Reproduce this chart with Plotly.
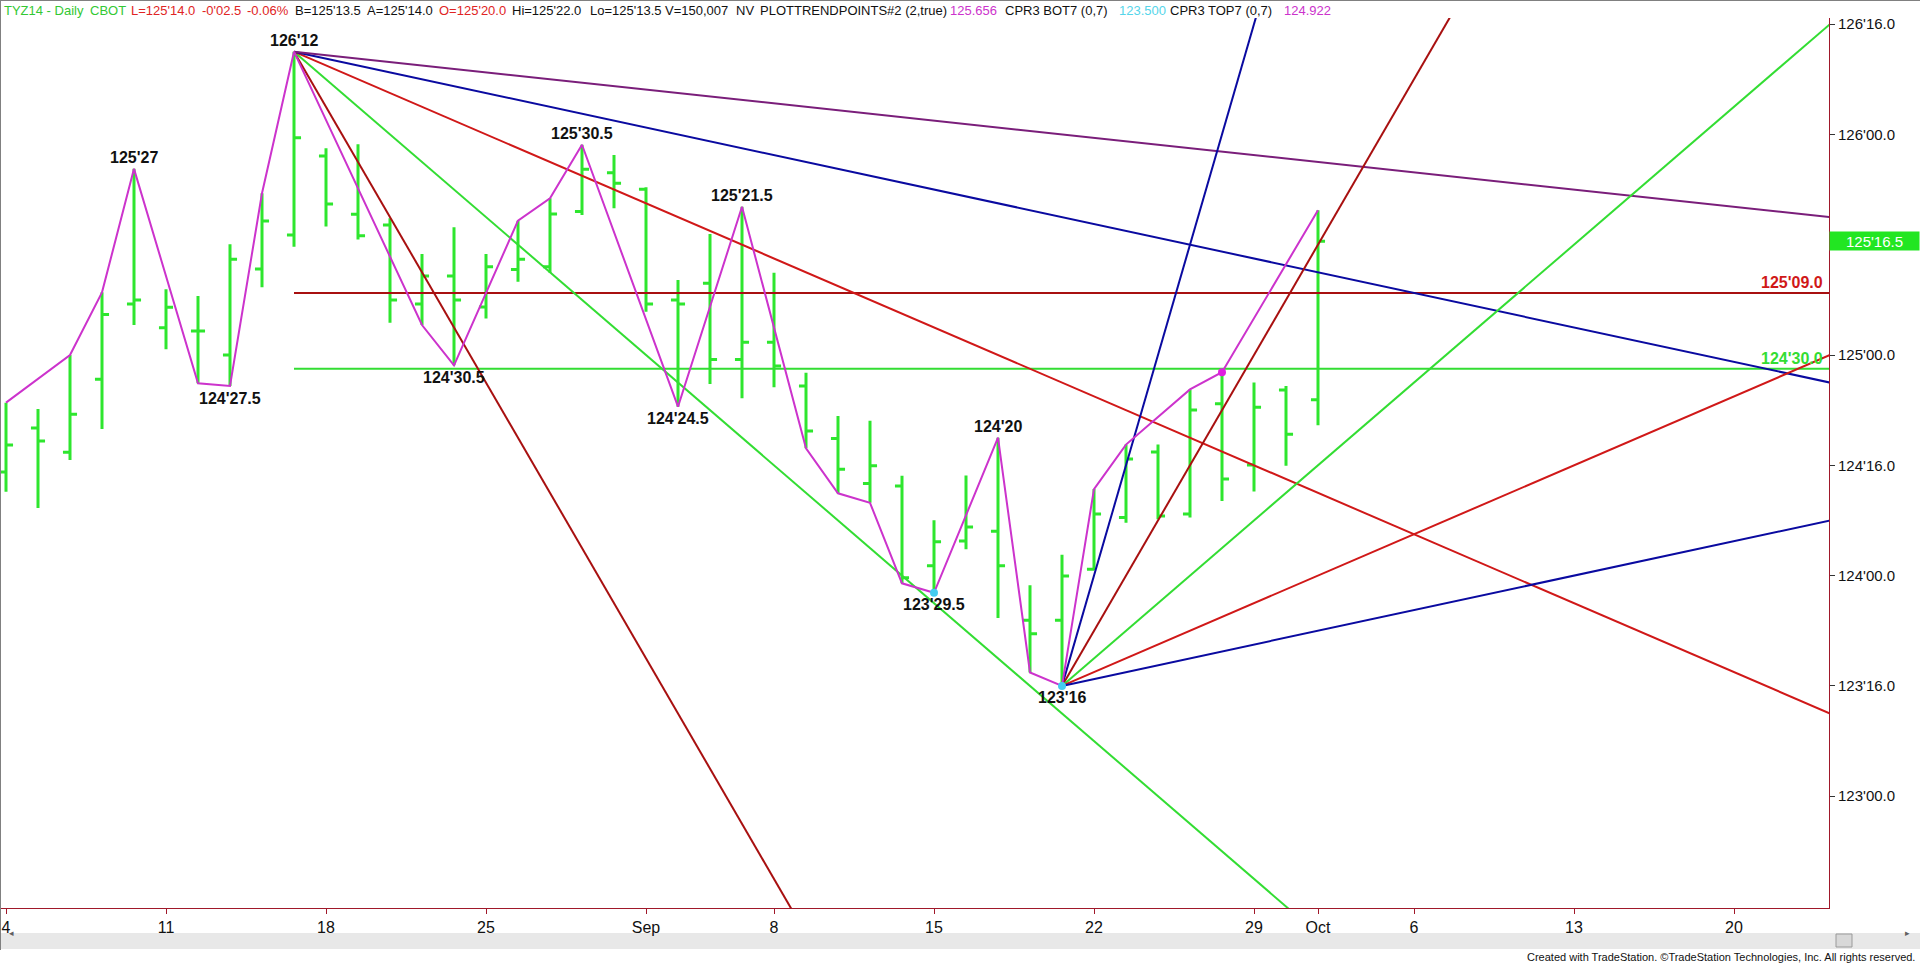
import pandas as pd
import plotly.graph_objects as go

# trading days on the axis (Labor Day is skipped), bars run to Oct 1
days = [d for d in pd.bdate_range("2014-08-04", "2014-10-24") if d != pd.Timestamp("2014-09-01")]

opens = [124.470, 124.669, 124.559, 124.890, 125.231, 125.124, 125.109, 125.000, 125.390, 125.544,
         125.902, 125.638, 125.589, 125.231, 125.358, 125.218, 125.388, 125.400, 125.650, 125.826,
         125.751, 125.249, 125.325, 124.980, 125.058, 124.859, 124.622, 124.418, 124.406, 124.045,
         124.157, 124.201, 123.798, 123.798, 124.029, 124.263, 124.560, 124.279, 124.779, 124.501,
         124.841, 124.797]
highs = [124.784, 124.755, 125.000, 125.284, 125.84375, 125.298, 125.267, 125.502, 125.733, 126.375,
         125.937, 125.955, 125.620, 125.458, 125.579, 125.458, 125.609, 125.710, 125.953125, 125.907,
         125.760, 125.340, 125.548, 125.671875, 125.373, 124.920, 124.723, 124.702, 124.453, 124.251,
         124.454, 124.625, 123.956, 124.095, 124.392, 124.594, 124.594, 124.844, 124.922, 124.875,
         124.860, 125.656]
lows = [124.380, 124.306, 124.524, 124.665, 125.136, 125.026, 124.872, 124.859375, 125.307, 125.491,
        125.582, 125.524, 125.146, 125.136, 124.953125, 125.166, 125.332, 125.373, 125.635, 125.665,
        125.196, 124.765625, 124.869, 124.804, 124.854, 124.577, 124.373, 124.330, 123.965, 123.921875,
        124.120, 123.808, 123.561, 123.500, 124.024, 124.240, 124.256, 124.263, 124.338, 124.381,
        124.498, 124.682]
closes = [124.592, 124.610, 124.731, 125.184, 125.249, 125.216, 125.109, 125.434, 125.607, 125.985,
          125.684, 125.541, 125.249, 125.358, 125.249, 125.400, 125.434, 125.639, 125.842, 125.778,
          125.231, 125.231, 124.980, 125.058, 124.950, 124.655, 124.482, 124.498, 123.990, 124.154,
          124.220, 124.045, 123.736, 123.998, 124.279, 124.529, 124.270, 124.751, 124.438, 124.763,
          124.641, 125.515625]

# swing points joined by the magenta trend-point line
zz_idx = [0, 2, 3, 4, 6, 7, 8, 9, 13, 14, 16, 17, 18, 21, 23, 25, 26, 27, 28, 29, 31, 32, 33, 34, 35, 37, 38, 41]
zz_side = ["H", "H", "H", "H", "L", "L", "H", "H", "L", "L", "H", "H", "H", "L", "H", "L", "L", "L", "L", "L",
           "H", "L", "L", "H", "H", "H", "H", "H"]

# labelled pivots
pivot_idx = [4, 7, 9, 14, 18, 21, 23, 29, 31, 33]
pivot_side = ["H", "L", "H", "L", "H", "L", "H", "L", "H", "L"]

# gann fans: anchor bar, slopes in points per bar
upper_anchor = 9
upper_slopes = [-1 / 4, -1 / 8, -1 / 16, -1 / 32, -1 / 64]
lower_anchor = 33
lower_slopes = [1 / 2, 1 / 4, 1 / 8, 1 / 16, 1 / 32]

# horizontal levels from the 126'12 top
levels = [125.28125, 124.9375]
level_start = 9

# dots
cyan_dots = [29, 33]
magenta_dots = [38]

tick_dates = ["2014-08-04", "2014-08-11", "2014-08-18", "2014-08-25", "2014-09-02", "2014-09-08",
              "2014-09-15", "2014-09-22", "2014-09-29", "2014-10-01", "2014-10-06", "2014-10-13", "2014-10-20"]
tick_text = ["4", "11", "18", "25", "Sep", "8", "15", "22", "29", "Oct", "6", "13", "20"]

# 125'16 sits under the last-price box
y_ticks = [123.0, 123.5, 124.0, 124.5, 125.0, 126.0, 126.5]

header = [("TYZ14 - Daily", "green"), ("CBOT", "green"), ("L=125'14.0", "red"), ("-0'02.5", "red"),
          ("-0.06%", "red"), ("B=125'13.5", "black"), ("A=125'14.0", "black"), ("O=125'20.0", "red"),
          ("Hi=125'22.0", "black"), ("Lo=125'13.5", "black"), ("V=150,007", "black"), ("NV", "black"),
          ("PLOTTRENDPOINTS#2 (2,true)", "black"), ("125.656", "magenta"), ("CPR3 BOT7 (0,7)", "black"),
          ("123.500", "cyan"), ("CPR3 TOP7 (0,7)", "black"), ("124.922", "magenta")]
header_px = [2, 88, 129, 200, 245, 293, 365, 437, 510, 588, 663, 734, 758, 948, 1003, 1117, 1168, 1282]

BAR = "#2EE62E"
PURPLE = "#7A1E7A"
NAVY = "#0A0AA0"
RED = "#D01818"
DKRED = "#A81010"
LGREEN = "#33DD33"
MAG = "#CC33CC"
CYAN = "#44CCF0"
AXIS = "#A0182A"
TXT = {"green": "#33C833", "red": "#E02424", "black": "#111111", "magenta": "#CC33CC", "cyan": "#55D5EA"}
FONT = "Arial, Liberation Sans, sans-serif"

upper_colors = [DKRED, LGREEN, RED, NAVY, PURPLE]
lower_colors = [NAVY, DKRED, LGREEN, RED, NAVY]
level_colors = [DKRED, LGREEN]
level_text_colors = ["#D01818", "#33DD33"]

# plot box in pixels
PW, PT, PB = 1829, 18, 908
PH = PB - PT


def px(x):
    return x / PW


def py(y):
    return (PB - y) / PH


def fmt32(p, full=True):
    whole = int(p)
    v = round((p - whole) * 64) / 2
    if full:
        return f"{whole}'{v:04.1f}"
    if v == int(v):
        return f"{whole}'{int(v):02d}"
    return f"{whole}'{v:04.1f}"


bar_x = list(range(len(opens)))
pick = {"H": highs, "L": lows}
far = 60

fig = go.Figure()

for lv, col in zip(levels, level_colors):
    fig.add_trace(go.Scatter(x=[level_start, far], y=[lv, lv], mode="lines",
                             line=dict(color=col, width=2), hoverinfo="skip"))

fig.add_trace(go.Ohlc(x=bar_x, open=opens, high=highs, low=lows, close=closes,
                      increasing=dict(line=dict(color=BAR, width=3)),
                      decreasing=dict(line=dict(color=BAR, width=3)),
                      tickwidth=0.22, hoverinfo="skip"))

for anchor, p0, slopes, cols in [(upper_anchor, highs[upper_anchor], upper_slopes, upper_colors),
                                 (lower_anchor, lows[lower_anchor], lower_slopes, lower_colors)]:
    for s, col in zip(slopes, cols):
        fig.add_trace(go.Scatter(x=[anchor, far], y=[p0, p0 + s * (far - anchor)], mode="lines",
                                 line=dict(color=col, width=2), hoverinfo="skip"))

fig.add_trace(go.Scatter(x=zz_idx, y=[pick[s][i] for i, s in zip(zz_idx, zz_side)], mode="lines",
                         line=dict(color=MAG, width=2), hoverinfo="skip"))

fig.add_trace(go.Scatter(x=cyan_dots, y=[lows[i] for i in cyan_dots], mode="markers",
                         marker=dict(color=CYAN, size=8), hoverinfo="skip"))
fig.add_trace(go.Scatter(x=magenta_dots, y=[highs[i] for i in magenta_dots], mode="markers",
                         marker=dict(color="#E020E0", size=8), hoverinfo="skip"))

ann = []
for i, s in zip(pivot_idx, pivot_side):
    p = pick[s][i]
    ann.append(dict(x=i, y=p, xref="x", yref="y", text="<b>" + fmt32(p, False) + "</b>",
                    showarrow=False, yanchor="middle", yshift=11 if s == "H" else -12,
                    font=dict(family=FONT, size=16, color="#111111")))

for lv, col in zip(levels, level_text_colors):
    ann.append(dict(x=px(1825), y=lv, xref="paper", yref="y", text="<b>" + fmt32(lv) + "</b>",
                    showarrow=False, xanchor="right", yanchor="bottom", yshift=0,
                    font=dict(family=FONT, size=16, color=col)))

for (t, c), xp in zip(header, header_px):
    ann.append(dict(x=px(xp), y=py(10), xref="paper", yref="paper", text=t, showarrow=False,
                    xanchor="left", yanchor="middle", font=dict(family=FONT, size=13, color=TXT[c])))

ann.append(dict(x=1, y=closes[-1], xref="paper", yref="y", text=fmt32(closes[-1]), showarrow=False,
                xanchor="left", yanchor="middle", width=89, height=18, align="center", borderpad=0,
                bgcolor="#22E622", font=dict(family=FONT, size=15, color="white")))

ann.append(dict(x=px(1917), y=py(957), xref="paper", yref="paper", showarrow=False,
                text="Created with TradeStation. \u00a9TradeStation Technologies, Inc. All rights reserved.",
                xanchor="right", yanchor="middle", font=dict(family=FONT, size=11, color="#111111")))
ann.append(dict(x=px(7), y=py(941), xref="paper", yref="paper", text="\u25c2", showarrow=False,
                font=dict(size=9, color="#606060")))
ann.append(dict(x=px(1912), y=py(941), xref="paper", yref="paper", text="\u25b8", showarrow=False,
                font=dict(size=9, color="#606060")))

shapes = [
    dict(type="rect", xref="paper", yref="paper", x0=px(0), x1=px(1920), y0=py(949), y1=py(933),
         fillcolor="#E8E8E8", line=dict(width=0), layer="below"),
    dict(type="rect", xref="paper", yref="paper", x0=px(1836), x1=px(1852), y0=py(947), y1=py(934),
         fillcolor="#D8D8D8", line=dict(color="#9A9A9A", width=1)),
    dict(type="line", xref="paper", yref="paper", x0=px(0.5), x1=px(0.5), y0=py(0), y1=py(950),
         line=dict(color="#808080", width=1)),
    dict(type="line", xref="paper", yref="paper", x0=px(0), x1=px(1920), y0=py(0.5), y1=py(0.5),
         line=dict(color="#808080", width=1)),
]

day_pos = {d.strftime("%Y-%m-%d"): k for k, d in enumerate(days)}

fig.update_layout(
    width=1920, height=964, autosize=False,
    margin=dict(l=0, r=1920 - PW, t=PT, b=964 - PB),
    paper_bgcolor="white", plot_bgcolor="white",
    showlegend=False,
    annotations=ann, shapes=shapes,
    xaxis=dict(range=[-0.1875, -0.1875 + PW / 32], rangeslider=dict(visible=False),
               tickvals=[day_pos[d] for d in tick_dates], ticktext=tick_text,
               showgrid=False, zeroline=False, showline=True, linecolor=AXIS, linewidth=1,
               ticks="outside", ticklen=5, tickcolor=AXIS,
               tickfont=dict(family=FONT, size=16, color="#111111")),
    yaxis=dict(range=[125 - 553 / 220.6, 125 - 553 / 220.6 + PH / 220.6], side="right",
               tickvals=y_ticks, ticktext=[fmt32(v) for v in y_ticks],
               showgrid=False, zeroline=False, showline=True, linecolor=AXIS, linewidth=1,
               ticks="outside", ticklen=5, tickcolor="#333333",
               tickfont=dict(family=FONT, size=15, color="#111111")),
)

fig.write_html("out.html", config={"displayModeBar": False},
               post_script="document.body.style.margin='0';document.body.style.overflow='hidden';")
